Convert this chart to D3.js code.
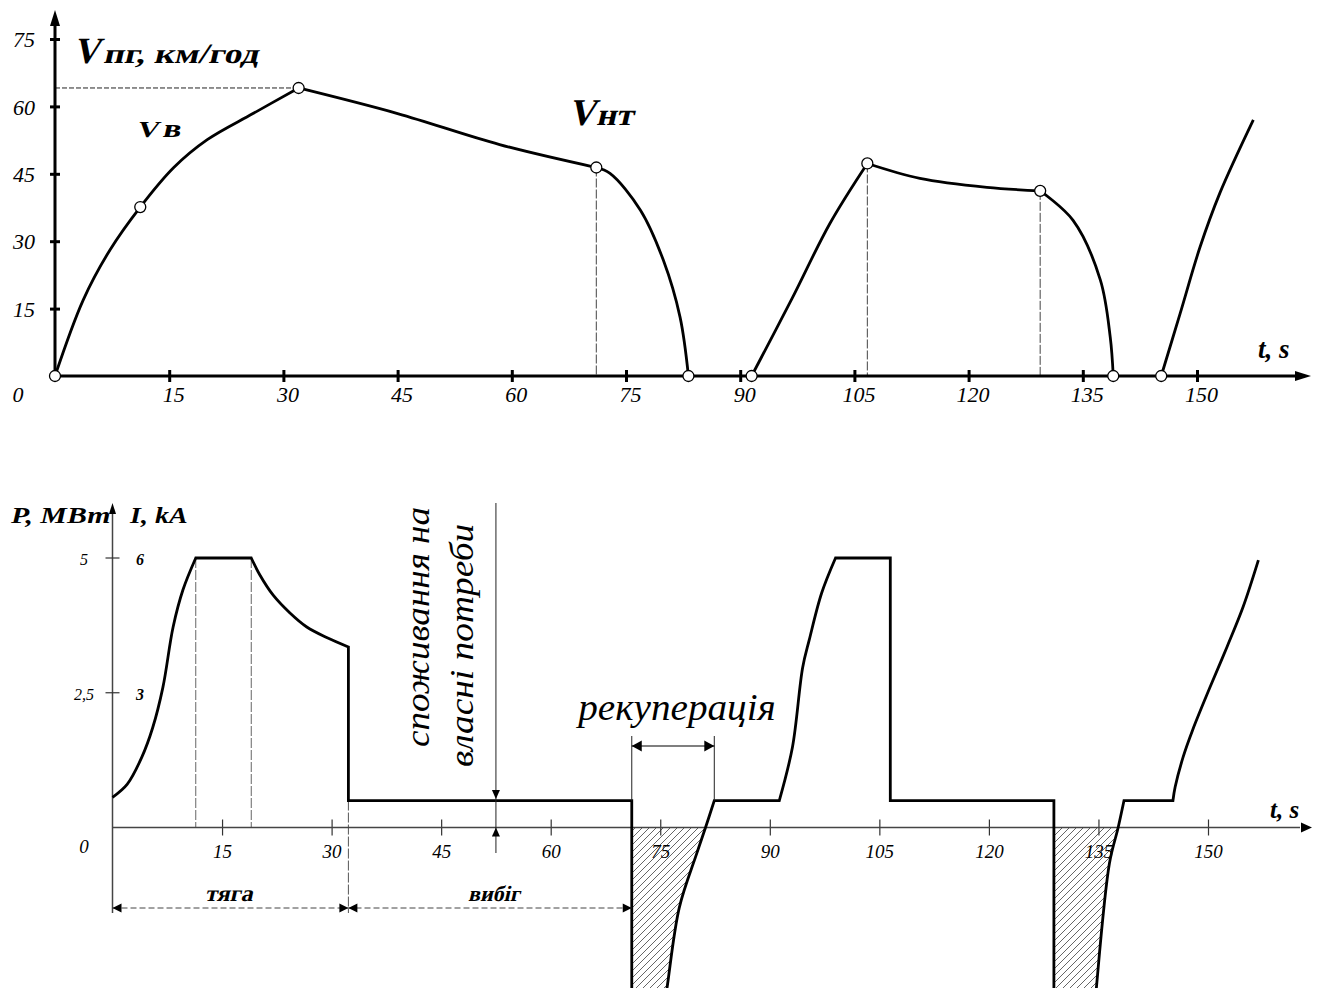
<!DOCTYPE html>
<html>
<head>
<meta charset="utf-8">
<script src="https://cdn.jsdelivr.net/npm/d3@7"></script>
<style>
body { margin: 0; background: #fff; }
text { font-family: "Liberation Serif", "Times New Roman", serif; fill: #000; }
</style>
</head>
<body>
<svg id="chart" width="1320" height="988"></svg>
<script>
// ticks
let timeTicks = [15, 30, 45, 60, 75, 90, 105, 120, 135, 150];
let speedTicks = [15, 30, 45, 60, 75];
let powerTicks = [2.5, 5];
let powerTickLabels = ["2,5", "5"];
let currentTicks = [3, 6];

// speed curve V(t), km/h  -- one array per phase
let speedAccel1 = [[0, 0], [3.7, 16.9], [7.2, 28], [11.2, 37.6], [15.6, 46.4], [20, 52.6], [26, 58.4], [32, 64.1]];
let speedCoast1 = [[32, 64.1], [45, 58.4], [58.4, 51.5], [71.1, 46.4]];
let speedBrake1 = [[71.1, 46.4], [72.9, 45.1], [76.9, 36.9], [79.9, 25.8], [82.1, 13.1], [83.2, 0]];
let speedAccel2 = [[91.5, 0], [96.8, 17.2], [101.8, 34], [106.7, 47.3]];
let speedCoast2 = [[106.7, 47.3], [113.6, 44], [122.4, 42], [129.4, 41.2]];
let speedBrake2 = [[129.4, 41.2], [133.7, 34.7], [137.3, 21.4], [138.6, 8.7], [139, 0]];
let speedAccel3 = [[145.3, 0], [147.8, 14], [150.4, 28.7], [153, 40.7], [157.4, 57]];
let speedMarks = [[0, 0], [11.2, 37.6], [32, 64.1], [71.1, 46.4], [83.2, 0], [91.5, 0], [106.7, 47.3], [129.4, 41.2], [139, 0], [145.3, 0]];
let speedGuidesV = [71.1, 106.7, 129.4];
let speedGuideH = 64.1;

// power curve P(t), MW
let powerRise1 = [[0, 0.56], [2, 0.8], [4, 1.3], [5.5, 1.85], [6.9, 2.6], [8.3, 3.72], [9.65, 4.41], [11.4, 5]];
let powerHold1 = [[11.4, 5], [19, 5]];
let powerFall1 = [[19, 5], [20.2, 4.68], [22, 4.31], [24.3, 3.98], [26.6, 3.72], [29.4, 3.52], [32.3, 3.35]];
let powerAux1 = [[32.3, 3.35], [32.3, 0.5], [71.1, 0.5], [71.1, -3.5], [75.3, -3.5]];
let powerRegen1 = [[75.3, -3.5], [75.9, -3.0], [77.6, -1.49], [80, -0.48], [81.2, 0], [82.4, 0.5]];
let powerAux2 = [[82.4, 0.5], [91.3, 0.5]];
let powerRise2 = [[91.3, 0.5], [93.1, 1.49], [94.5, 2.97], [95.4, 3.48], [97.1, 4.35], [99, 5]];
let powerHold2 = [[99, 5], [106.5, 5], [106.5, 0.5], [128.9, 0.5], [128.9, -3.5], [134.4, -3.5]];
let powerRegen2 = [[134.4, -3.5], [134.7, -3.0], [136.5, -0.67], [137.7, 0], [138.5, 0.5]];
let powerAux3 = [[138.5, 0.5], [145.2, 0.5]];
let powerRise3 = [[145.2, 0.5], [145.5, 0.75], [146.6, 1.31], [147.9, 1.81], [150.3, 2.61], [152.6, 3.35], [154.8, 4.09], [156.9, 4.96]];
let powerGuides = [11.4, 19];
let phaseBounds = [0, 32.3, 71.1];
let regenSpan = [71.1, 82.4];
let auxMark = 52.5;

let svg = d3.select('#chart');
let smooth = d3.curveCatmullRom.alpha(0.5);

let defs = svg.append("defs");
let hatch = defs.append("pattern")
                .attr("id", "hatch")
                .attr("patternUnits", "userSpaceOnUse")
                .attr("width", 7)
                .attr("height", 7);
hatch.append("path")
     .attr("d", "M-1,1 L1,-1 M0,7 L7,0 M6,8 L8,6")
     .attr("stroke", "#555")
     .attr("stroke-width", 0.9);

// slanted bold label: upright glyphs, skewed and stretched like the drawing
function label(parent, x, y, str, size, sx) {
  return parent.append("text")
               .attr("transform", `translate(${x},${y}) skewX(-13) scale(${sx},1)`)
               .attr("font-weight", "bold")
               .attr("font-size", size)
               .text(str);
}

// ---------- speed chart ----------
let xTop = d3.scaleLinear().domain([0, 150]).range([55, 1197]);
let yTop = d3.scaleLinear().domain([0, 75]).range([376, 39]);

let speedG = svg.append("g");

// dashed guides
speedG.append("line")
   .attr("x1", xTop(0)).attr("x2", xTop(32))
   .attr("y1", yTop(speedGuideH)).attr("y2", yTop(speedGuideH))
   .attr("stroke", "#222").attr("stroke-width", 1).attr("stroke-dasharray", "5,2");
speedG.selectAll(".vguide")
   .data(speedGuidesV)
   .enter()
   .append("line")
   .attr("x1", d => xTop(d)).attr("x2", d => xTop(d))
   .attr("y1", d => yTop(speedMarks.find(m => m[0] == d)[1]))
   .attr("y2", yTop(0))
   .attr("stroke", "#444").attr("stroke-width", 1).attr("stroke-dasharray", "9,2");

// axes
let xAxisTop = d3.axisBottom(xTop).tickValues(timeTicks).tickSize(0).tickPadding(0);
let gxTop = speedG.append("g").attr("transform", "translate(0," + yTop(0) + ")").call(xAxisTop);
gxTop.select(".domain").remove();
gxTop.selectAll(".tick line").attr("y1", -6).attr("y2", 6).attr("stroke", "#000").attr("stroke-width", 3);
gxTop.selectAll(".tick text")
     .attr("y", 26).attr("x", 4).attr("dy", 0)
     .attr("font-size", 22).attr("font-style", "italic")
     .attr("font-family", "Liberation Serif");

let yAxisTop = d3.axisLeft(yTop).tickValues(speedTicks).tickSize(0).tickPadding(0);
let gyTop = speedG.append("g").attr("transform", "translate(" + xTop(0) + ",0)").call(yAxisTop);
gyTop.select(".domain").remove();
gyTop.selectAll(".tick line").attr("x1", -5).attr("x2", 5).attr("stroke", "#000").attr("stroke-width", 3);
gyTop.selectAll(".tick text")
     .attr("x", -20).attr("dy", "0.35em")
     .attr("font-size", 22).attr("font-style", "italic")
     .attr("font-family", "Liberation Serif");

speedG.append("line").attr("x1", xTop(0)).attr("x2", xTop(0)).attr("y1", yTop(0) + 1.5).attr("y2", 22)
   .attr("stroke", "#000").attr("stroke-width", 3);
speedG.append("line").attr("x1", xTop(0) - 1.5).attr("x2", 1298).attr("y1", yTop(0)).attr("y2", yTop(0))
   .attr("stroke", "#000").attr("stroke-width", 3);
speedG.append("path").attr("d", `M${xTop(0)},10 L${xTop(0) - 5},26 L${xTop(0) + 5},26 Z`);
speedG.append("path").attr("d", `M1311,${yTop(0)} L1295,${yTop(0) - 5} L1295,${yTop(0) + 5} Z`);

speedG.append("text").attr("x", 18).attr("y", 402).attr("text-anchor", "middle")
   .attr("font-size", 22).attr("font-style", "italic").text("0");

// speed line
let speedLine = d3.line().x(d => xTop(d[0])).y(d => yTop(d[1])).curve(smooth);
let speedSegments = [speedAccel1, speedCoast1, speedBrake1, speedAccel2, speedCoast2, speedBrake2, speedAccel3];
speedG.selectAll(".speed")
   .data(speedSegments)
   .enter()
   .append("path")
   .attr("d", speedLine)
   .attr("fill", "none")
   .attr("stroke", "#000")
   .attr("stroke-width", 2.8);

speedG.selectAll(".mark")
   .data(speedMarks)
   .enter()
   .append("circle")
   .attr("cx", d => xTop(d[0]))
   .attr("cy", d => yTop(d[1]))
   .attr("r", 5.5)
   .attr("fill", "#fff")
   .attr("stroke", "#000")
   .attr("stroke-width", 1.3);

label(speedG, 73, 63, "V", 37, 1);
label(speedG, 103, 63, "пг, км/год", 28, 1.27);
label(speedG, 136, 137, "V", 23, 1.35);
label(speedG, 162, 137, "в", 26, 1.3);
label(speedG, 568, 125, "V", 38, 1);
label(speedG, 596, 125, "нт", 31, 1.12);

speedG.append("text").attr("x", 1258).attr("y", 358)
   .attr("font-size", 27).attr("font-style", "italic").attr("font-weight", "bold").text("t, s");

// ---------- power chart ----------
let xBot = d3.scaleLinear().domain([0, 150]).range([112.5, 1208]);
let yBot = d3.scaleLinear().domain([0, 5]).range([827.5, 558]);
let yCur = d3.scaleLinear().domain([0, 6]).range([827.5, 558]);

let powerG = svg.append("g");

// hatched regeneration areas
let regenArea = d3.area()
                  .x(d => xBot(d[0]))
                  .y0(yBot(0))
                  .y1(d => yBot(d[1]))
                  .curve(smooth);
[[[71.1, -3.5]].concat(powerRegen1.filter(d => d[1] <= 0)),
 [[128.9, -3.5]].concat(powerRegen2.filter(d => d[1] <= 0))].forEach(a => {
  powerG.append("path").attr("d", regenArea(a)).attr("fill", "url(#hatch)");
});

// dashed guides
powerG.selectAll(".pguide")
   .data(powerGuides)
   .enter()
   .append("line")
   .attr("x1", d => xBot(d)).attr("x2", d => xBot(d))
   .attr("y1", yBot(5)).attr("y2", yBot(0))
   .attr("stroke", "#666").attr("stroke-width", 1).attr("stroke-dasharray", "10,2");
powerG.append("line")
   .attr("x1", xBot(phaseBounds[1])).attr("x2", xBot(phaseBounds[1]))
   .attr("y1", yBot(0.5)).attr("y2", 913)
   .attr("stroke", "#555").attr("stroke-width", 1).attr("stroke-dasharray", "10,2");

// axes
let xAxisBot = d3.axisBottom(xBot).tickValues(timeTicks).tickSize(0).tickPadding(0);
let gxBot = powerG.append("g").attr("transform", "translate(0," + yBot(0) + ")").call(xAxisBot);
gxBot.select(".domain").remove();
gxBot.selectAll(".tick line").attr("y1", -8).attr("y2", 8).attr("stroke", "#333").attr("stroke-width", 1.2);
gxBot.selectAll(".tick text")
     .attr("y", 30).attr("x", 0).attr("dy", 0)
     .attr("font-size", 19).attr("font-style", "italic")
     .attr("font-family", "Liberation Serif");

powerG.append("line").attr("x1", xBot(0)).attr("x2", xBot(0)).attr("y1", 913).attr("y2", 510)
   .attr("stroke", "#444").attr("stroke-width", 1.5);
powerG.append("line").attr("x1", xBot(0)).attr("x2", 1300).attr("y1", yBot(0)).attr("y2", yBot(0))
   .attr("stroke", "#444").attr("stroke-width", 1.5);
powerG.append("path").attr("d", `M${xBot(0)},503 L${xBot(0) - 3.5},514 L${xBot(0) + 3.5},514 Z`);
powerG.append("path").attr("d", `M1312,${yBot(0)} L1301,${yBot(0) - 5} L1301,${yBot(0) + 5} Z`);

powerG.selectAll(".ptick")
   .data(powerTicks)
   .enter()
   .append("line")
   .attr("x1", xBot(0) - 7).attr("x2", xBot(0) + 7)
   .attr("y1", d => yBot(d)).attr("y2", d => yBot(d))
   .attr("stroke", "#333").attr("stroke-width", 1.2);
powerG.selectAll(".plabel")
   .data(powerTicks)
   .enter()
   .append("text")
   .attr("x", 84).attr("y", d => yBot(d) + 7)
   .attr("text-anchor", "middle")
   .attr("font-size", 16).attr("font-style", "italic")
   .text((d, i) => powerTickLabels[i]);
powerG.selectAll(".ilabel")
   .data(currentTicks)
   .enter()
   .append("text")
   .attr("x", 140).attr("y", d => yCur(d) + 7)
   .attr("text-anchor", "middle")
   .attr("font-size", 16).attr("font-style", "italic").attr("font-weight", "bold")
   .text(d => d);

powerG.append("text").attr("transform", "translate(11,523) scale(1.3,1)")
   .attr("font-size", 23).attr("font-style", "italic").attr("font-weight", "bold").text("P, МВт");
powerG.append("text").attr("transform", "translate(130,523) scale(1.22,1)")
   .attr("font-size", 23).attr("font-style", "italic").attr("font-weight", "bold").text("I, kA");
powerG.append("text").attr("x", 84).attr("y", 853).attr("text-anchor", "middle")
   .attr("font-size", 19).attr("font-style", "italic").text("0");
powerG.append("text").attr("x", 1270).attr("y", 818)
   .attr("font-size", 25).attr("font-style", "italic").attr("font-weight", "bold").text("t, s");

// power line
let powerLine = d3.line().x(d => xBot(d[0])).y(d => yBot(d[1]));
let powerPieces = [
  [powerRise1, smooth], [powerHold1, d3.curveLinear], [powerFall1, smooth],
  [powerAux1, d3.curveLinear], [powerRegen1, smooth], [powerAux2, d3.curveLinear],
  [powerRise2, smooth], [powerHold2, d3.curveLinear], [powerRegen2, smooth],
  [powerAux3, d3.curveLinear], [powerRise3, smooth]
];
let powerPath = powerPieces.map((p, i) => {
  let s = powerLine.curve(p[1])(p[0]);
  return i ? s.replace(/^M/, "L") : s;
}).join("");
powerG.append("path")
   .attr("d", powerPath)
   .attr("fill", "none")
   .attr("stroke", "#000")
   .attr("stroke-width", 2.8)
   .attr("stroke-linejoin", "miter");

// arrow helper
function arrow(g, x, y, dir, len, half) {
  let p;
  if (dir == "left")  p = `M${x},${y} L${x + len},${y - half} L${x + len},${y + half} Z`;
  if (dir == "right") p = `M${x},${y} L${x - len},${y - half} L${x - len},${y + half} Z`;
  if (dir == "up")    p = `M${x},${y} L${x - half},${y + len} L${x + half},${y + len} Z`;
  if (dir == "down")  p = `M${x},${y} L${x - half},${y - len} L${x + half},${y - len} Z`;
  g.append("path").attr("d", p).attr("fill", "#000");
}

// phase dimension row
let rowY = 908;
powerG.append("line")
   .attr("x1", xBot(phaseBounds[0])).attr("x2", xBot(phaseBounds[2]))
   .attr("y1", rowY).attr("y2", rowY)
   .attr("stroke", "#444").attr("stroke-width", 1).attr("stroke-dasharray", "6,3");
arrow(powerG, xBot(phaseBounds[0]), rowY, "left", 9, 4.5);
arrow(powerG, xBot(phaseBounds[1]), rowY, "right", 9, 4.5);
arrow(powerG, xBot(phaseBounds[1]), rowY, "left", 9, 4.5);
arrow(powerG, xBot(phaseBounds[2]), rowY, "right", 9, 4.5);
label(powerG, 205, 901, "тяга", 23, 1.05);
label(powerG, 468, 901, "вибіг", 22, 1);

// recuperation span
regenSpan.forEach(t => {
  powerG.append("line").attr("x1", xBot(t)).attr("x2", xBot(t))
     .attr("y1", yBot(0.5)).attr("y2", 736)
     .attr("stroke", "#222").attr("stroke-width", 1);
});
powerG.append("line").attr("x1", xBot(regenSpan[0])).attr("x2", xBot(regenSpan[1]))
   .attr("y1", 746).attr("y2", 746).attr("stroke", "#000").attr("stroke-width", 1.2);
arrow(powerG, xBot(regenSpan[0]), 746, "left", 10, 5.5);
arrow(powerG, xBot(regenSpan[1]), 746, "right", 10, 5.5);
powerG.append("text").attr("transform", "translate(677,720) scale(1.06,1)").attr("text-anchor", "middle")
   .attr("font-size", 37).attr("font-style", "italic").text("рекуперація");

// auxiliary consumption marker
powerG.append("line").attr("x1", xBot(auxMark)).attr("x2", xBot(auxMark))
   .attr("y1", 503).attr("y2", 853).attr("stroke", "#222").attr("stroke-width", 1);
arrow(powerG, xBot(auxMark), yBot(0.5) - 1.5, "down", 9, 4);
arrow(powerG, xBot(auxMark), yBot(0), "up", 9, 4);
powerG.append("text").attr("transform", "translate(429,747) rotate(-90) scale(1.09,1)")
   .attr("font-size", 34).attr("font-style", "italic").text("споживання на");
powerG.append("text").attr("transform", "translate(473,767) rotate(-90) scale(1.1,1)")
   .attr("font-size", 34).attr("font-style", "italic").text("власні потреби");
</script>
</body>
</html>
